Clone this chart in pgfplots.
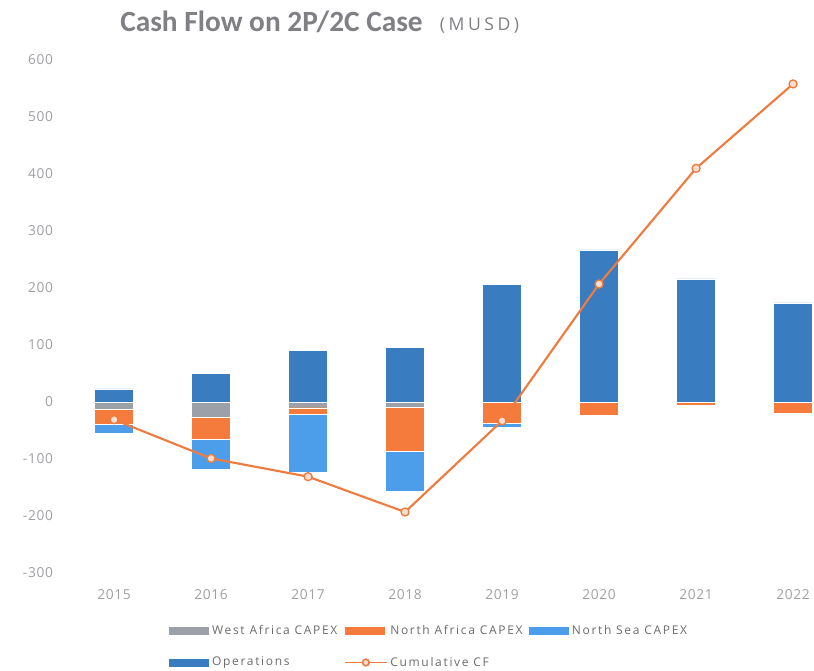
\documentclass[border=0pt]{standalone}
\usepackage{fontspec}
\setmainfont{Open Sans}
\newfontfamily\titlefont{Carlito}
\newfontfamily\tickfont[LetterSpace=5]{Open Sans}
\newfontfamily\legfont[LetterSpace=14]{Open Sans}
\newfontfamily\unitfont[LetterSpace=20]{Open Sans}
\usepackage{pgfplots}
\pgfplotsset{compat=1.18}
\definecolor{opscol}{HTML}{3A7CC0}
\definecolor{nscol}{HTML}{4C9EEA}
\definecolor{nacol}{HTML}{F47B3C}
\definecolor{wacol}{HTML}{9CA0A8}
\definecolor{cfcol}{HTML}{EE7B3F}
\definecolor{tickgray}{HTML}{A0A0A4}
\definecolor{titlegray}{HTML}{7F7F84}
\pgfplotsset{
  barleg/.style={legend image code/.code={\fill[##1,draw=none] (0pt,-3pt) rectangle (30pt,3pt);}},
  lineleg/.style={legend image code/.code={\draw[##1,mark repeat=2,mark phase=2] plot coordinates {(0pt,0pt) (15.75pt,0pt) (31.5pt,0pt)};}},
}
\begin{document}
\begin{tikzpicture}
\useasboundingbox (-63.75pt,-73.5pt) rectangle (546.75pt,429.75pt);
\begin{axis}[
  at={(0pt,0pt)}, anchor=south west,
  scale only axis, width=546.75pt, height=384.75pt,
  xmin=-0.3, xmax=7.216, ymin=-300, ymax=600,
  ytick={-300,-200,...,600},
  xtick={0,...,7},
  xticklabels={2015,2016,2017,2018,2019,2020,2021,2022},
  axis line style={draw=none},
  major tick length=0pt,
  tick label style={font=\tickfont\fontsize{10.3}{12}\selectfont, text=tickgray},
  /pgf/number format/assume math mode=true,
  xticklabel style={yshift=-8.5pt},
  yticklabel style={xshift=-20.5pt},
  clip=false,
  legend style={at={(0.110,-0.092)}, anchor=north west, draw=none, fill=none,
    font=\legfont\fontsize{9}{11}\selectfont, text=black!58,
    /tikz/every even column/.append style={column sep=3pt},
    /tikz/every odd column/.append style={column sep=0pt},
    row sep=11pt},
  legend columns=3,
  legend cell align=left,
]
% stacked segments drawn as overlapping bars (outermost cumulative value first)
\addplot[ybar, bar width=29.25pt, bar shift=0pt, fill=nscol, draw=white, line width=0.3pt, forget plot]
  coordinates {(0,-54) (1,-118) (2,-124) (3,-157) (4,-45) (5,0) (6,0) (7,0)};
\addplot[ybar, bar width=29.25pt, bar shift=0pt, fill=nacol, draw=white, line width=0.3pt, forget plot]
  coordinates {(0,-39) (1,-65) (2,-22) (3,-87) (4,-38) (5,-23) (6,-6) (7,-20)};
\addplot[ybar, bar width=29.25pt, bar shift=0pt, fill=wacol, draw=white, line width=0.3pt, forget plot]
  coordinates {(0,-12) (1,-26) (2,-10) (3,-9) (4,0) (5,0) (6,0) (7,0)};
\addplot[ybar, bar width=29.25pt, bar shift=0pt, fill=opscol, draw=white, line width=0.3pt, forget plot]
  coordinates {(0,23) (1,50) (2,91) (3,96) (4,206) (5,267) (6,216) (7,174)};
\addplot[cfcol, line width=1.6pt, mark=*, mark size=3pt,
  mark options={fill=cfcol!25, draw=cfcol, line width=1pt}, forget plot]
  coordinates {(0,-31) (1,-99) (2,-131) (3,-193) (4,-33) (5,207) (6,410) (7,558)};
% legend
\addlegendimage{barleg, fill=wacol}
\addlegendentry{West Africa CAPEX}
\addlegendimage{barleg, fill=nacol}
\addlegendentry{North Africa CAPEX}
\addlegendimage{barleg, fill=nscol}
\addlegendentry{North Sea CAPEX}
\addlegendimage{barleg, fill=opscol}
\addlegendentry{Operations}
\addlegendimage{lineleg, cfcol, line width=1.2pt, mark=*, mark size=2.5pt, mark options={fill=cfcol!25, draw=cfcol}}
\addlegendentry{Cumulative CF}
\end{axis}
\node[anchor=base west, inner sep=0pt, text=titlegray] at (26.25pt,405.75pt)
  {\titlefont\bfseries\fontsize{22}{26}\selectfont Cash Flow on 2P/2C Case};
\node[anchor=base west, inner sep=0pt, text=titlegray] at (266pt,406.5pt)
  {\unitfont\fontsize{13.2}{15}\selectfont (MUSD)};
\end{tikzpicture}
\end{document}
